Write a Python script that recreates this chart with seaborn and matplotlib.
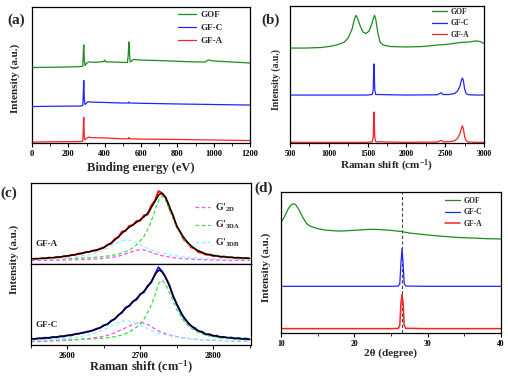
import numpy as np
import pandas as pd
import matplotlib
matplotlib.use("Agg")
import matplotlib.pyplot as plt
import seaborn as sns
from matplotlib.ticker import MultipleLocator

# ---------------- data ----------------
# (a) XPS survey, stacked intensities (a.u.)
xps_x_gof = [0, 100, 200, 270, 280, 283, 285, 288, 292, 300, 310, 350, 395, 400, 405, 500, 525,
             530, 533, 536, 540, 548, 560, 600, 700, 800, 900, 955, 965, 975, 985, 1000, 1100, 1200]
xps_y_gof = [555, 557, 559, 562, 566, 684, 721, 610, 570, 585, 596, 593, 599, 610, 597, 593, 592,
             647, 743, 684, 596, 603, 614, 610, 606, 601, 596, 596, 607, 610, 607, 603, 596, 588]
xps_x_gfc = [0, 100, 200, 270, 280, 283, 285, 288, 292, 300, 310, 320, 400, 500, 530, 533, 536,
             600, 800, 1000, 1200]
xps_y_gfc = [268, 270, 271, 272, 276, 390, 460, 316, 283, 294, 305, 301, 298, 294, 294, 301, 294,
             292, 287, 283, 279]
xps_x_gfa = xps_x_gfc
xps_y_gfa = [7, 9, 10, 11, 15, 132, 188, 44, 22, 33, 44, 40, 37, 31, 31, 40, 31, 29, 26, 22, 18]

# (b) Raman spectra
ram_x_gof = [500, 700, 900, 1000, 1100, 1200, 1250, 1300, 1330, 1350, 1370, 1400, 1440, 1480, 1520,
             1550, 1575, 1590, 1605, 1630, 1660, 1700, 1800, 2000, 2200, 2400, 2500, 2600, 2700,
             2800, 2900, 2950, 3000]
ram_y_gof = [693, 693, 697, 704, 715, 737, 766, 832, 905, 931, 912, 861, 810, 799, 818,
             861, 912, 931, 905, 810, 737, 715, 704, 701, 704, 715, 719, 726, 734,
             737, 745, 741, 726]
ram_x_gf = [500, 1000, 1500, 1560, 1572, 1578, 1582, 1586, 1592, 1605, 2000, 2400, 2440, 2455,
            2470, 2550, 2620, 2660, 2690, 2710, 2722, 2735, 2750, 2770, 2800, 2900, 3000]
ram_y_gfc = [350, 350, 350, 354, 387, 518, 577, 518, 387, 354, 350, 352, 365, 365,
             354, 354, 361, 380, 416, 460, 474, 453, 394, 361, 352, 350, 350]
ram_y_gfa = [5, 5, 5, 9, 40, 168, 226, 168, 40, 9, 5, 7, 18, 18,
             9, 9, 16, 34, 69, 109, 126, 102, 47, 16, 7, 5, 5]

# (c) G' band fitting (normalised to each sub-panel)
fit_x = [2550, 2570, 2590, 2610, 2630, 2645, 2655, 2665, 2675, 2685, 2695, 2705, 2712, 2718,
         2722, 2726, 2730, 2734, 2738, 2744, 2750, 2758, 2766, 2776, 2790, 2810, 2830, 2850]
gfa_fit = [.062, .071, .087, .114, .152, .185, .23, .295, .38, .455, .515, .58, .645, .74,
           .80, .86, .87, .83, .76, .62, .475, .35, .255, .18, .122, .092, .078, .07]
gfa_3da = [.06, .062, .065, .07, .078, .088, .098, .112, .135, .17, .235, .34, .46, .60,
           .71, .80, .84, .80, .72, .58, .45, .33, .245, .18, .13, .095, .08, .07]
gfa_3db = [.055, .06, .07, .085, .115, .155, .195, .245, .29, .295, .26, .215, .185, .165,
           .152, .142, .133, .125, .118, .108, .10, .09, .083, .076, .069, .063, .058, .055]
gfa_2d = [.042, .045, .048, .052, .058, .066, .075, .088, .108, .14, .172, .175, .155, .135,
          .122, .112, .103, .095, .089, .08, .074, .067, .062, .057, .052, .048, .045, .043]
gfc_fit = [.074, .088, .105, .13, .165, .215, .26, .325, .41, .49, .575, .665, .74, .83,
           .89, .925, .90, .85, .77, .64, .50, .37, .27, .19, .135, .1, .082, .07]
gfc_3da = [.055, .058, .062, .066, .073, .082, .09, .103, .125, .16, .22, .32, .43, .56,
           .67, .77, .80, .76, .69, .56, .44, .32, .235, .17, .12, .088, .073, .065]
gfc_3db = [.055, .062, .072, .09, .125, .17, .21, .255, .295, .295, .265, .225, .195, .17,
           .155, .144, .135, .126, .118, .108, .098, .088, .08, .072, .064, .057, .052, .048]
gfc_2d = [.042, .047, .054, .064, .08, .1, .12, .15, .19, .235, .27, .272, .245, .21,
          .19, .172, .155, .142, .13, .115, .103, .09, .08, .07, .062, .055, .048, .044]

raw_x = list(range(2550, 2851, 5))
gfa_raw = [.058, .066, .062, .072, .068, .079, .074, .085, .083, .097, .095, .11, .112, .128, .13,
           .148, .15, .165, .168, .19, .2, .24, .25, .31, .33, .4, .41, .47, .48, .53, .535,
           .6, .61, .72, .78, .9, .875, .82, .69, .6, .46, .39, .3, .265, .205, .19, .145,
           .14, .115, .117, .098, .102, .088, .093, .08, .085, .074, .079, .07, .076, .068]
gfc_raw = [.078, .072, .082, .079, .09, .085, .098, .093, .108, .105, .12, .118, .135, .14, .15,
           .16, .17, .18, .2, .212, .245, .255, .3, .32, .37, .4, .465, .48, .54, .56, .63,
           .65, .73, .77, .87, .96, .91, .83, .74, .6, .51, .41, .33, .28, .23, .21, .17,
           .165, .13, .135, .11, .115, .095, .1, .088, .092, .08, .086, .074, .08, .07]

# (d) XRD patterns
xrd_x_gof = [10, 10.5, 11, 11.4, 11.7, 12.0, 12.5, 13, 13.5, 14, 15, 16, 17, 18, 20, 22, 23, 25,
             26.5, 27.5, 30, 32, 34, 36, 38, 40]
xrd_y_gof = [782, 827, 882, 910, 917, 910, 870, 818, 775, 757, 740, 730, 726, 723, 728, 735, 735,
             728, 719, 709, 695, 686, 678, 674, 669, 667]
xrd_x_gf = [10, 20, 25, 26.0, 26.2, 26.35, 26.5, 26.65, 26.8, 27, 30, 40]
xrd_y_gfc = [331, 331, 331, 333, 350, 492, 598, 492, 350, 333, 331, 331]
xrd_y_gfa = [31, 31, 31, 33, 54, 208, 274, 208, 54, 33, 31, 31]
graphite_002 = 26.5

# ---------------- style ----------------
sns.set_theme(style="ticks")
plt.rcParams['font.family'] = ['Liberation Serif', 'DejaVu Serif']
plt.rcParams['font.weight'] = 'bold'
plt.rcParams['axes.labelweight'] = 'bold'
plt.rcParams['mathtext.fontset'] = 'custom'
plt.rcParams['mathtext.rm'] = 'Liberation Serif:bold'
plt.rcParams['mathtext.it'] = 'Liberation Serif:bold'
plt.rcParams['mathtext.bf'] = 'Liberation Serif:bold'
plt.rcParams['mathtext.default'] = 'rm'

GREEN, BLUE, RED = '#1b8c1b', '#2323ff', '#ff2020'
W, H = 508, 381
fig = plt.figure(figsize=(W / 100, H / 100), dpi=100)


def px_axes(l, t, r, b):
    return fig.add_axes([l / W, 1 - b / H, (r - l) / W, (b - t) / H])


def style_axes(ax, major, minor, tick_fs=6):
    for s in ax.spines.values():
        s.set_linewidth(0.9)
        s.set_color('black')
    ax.xaxis.set_major_locator(MultipleLocator(major))
    ax.xaxis.set_minor_locator(MultipleLocator(minor))
    ax.tick_params(axis='x', which='major', direction='out', length=3, width=0.8,
                   labelsize=tick_fs, pad=2, colors='black')
    ax.tick_params(axis='x', which='minor', direction='out', length=1.8, width=0.7)
    ax.tick_params(axis='y', left=False, labelleft=False)
    ax.set_xlabel('')
    ax.set_ylabel('')


def draw(ax, x, y, color, label=None, lw=1.0, **kw):
    sns.lineplot(x=x, y=y, ax=ax, color=color, lw=lw, label=label, estimator=None,
                 sort=False, **kw)


def legend(ax, x, y, fs, spacing, hl=2.0):
    leg = ax.legend(loc='upper left', bbox_to_anchor=(x, y), frameon=False, fontsize=fs,
                    borderpad=0, borderaxespad=0, handlelength=hl, handletextpad=0.5,
                    labelspacing=spacing)
    return leg


# (a)
axa = px_axes(32, 7, 250, 143)
draw(axa, xps_x_gof, xps_y_gof, GREEN, 'GOF', lw=0.9)
draw(axa, xps_x_gfc, xps_y_gfc, BLUE, 'GF-C', lw=0.9)
draw(axa, xps_x_gfa, xps_y_gfa, RED, 'GF-A', lw=0.9)
axa.set_xlim(0, 1200)
axa.set_ylim(0, 1000)
style_axes(axa, 200, 100)
legend(axa, 0.67, 0.975, 6.5, 0.55)

# (b)
axb = px_axes(290, 6, 484, 143)
draw(axb, ram_x_gof, ram_y_gof, GREEN, 'GOF', lw=0.9)
draw(axb, ram_x_gf, ram_y_gfc, BLUE, 'GF-C', lw=0.9)
draw(axb, ram_x_gf, ram_y_gfa, RED, 'GF-A', lw=0.9)
axb.set_xlim(500, 3000)
axb.set_ylim(0, 1000)
style_axes(axb, 500, 250, tick_fs=5.5)
legend(axb, 0.73, 0.985, 5.5, 0.45)

# (c)
axc1 = px_axes(31, 183, 251, 264)
axc2 = px_axes(31, 264, 251, 345)
for ax, raw, rc, fit, c2d, c3a, c3b, name in [
        (axc1, gfa_raw, '#ff0000', gfa_fit, gfa_2d, gfa_3da, gfa_3db, 'GF-A'),
        (axc2, gfc_raw, '#1a1aee', gfc_fit, gfc_2d, gfc_3da, gfc_3db, 'GF-C')]:
    lab = ax is axc1
    draw(ax, raw_x, raw, rc, lw=1.4)
    draw(ax, fit_x, c2d, '#ff4dff', "G'$_{2D}$" if lab else None, lw=0.9, linestyle=(0, (3, 2)))
    draw(ax, fit_x, c3a, '#3fdc3f', "G'$_{3DA}$" if lab else None, lw=0.9, linestyle=(0, (3, 2)))
    draw(ax, fit_x, c3b, '#8ff5f5', "G'$_{3DB}$" if lab else None, lw=0.9, linestyle=(0, (3, 2)))
    draw(ax, fit_x, fit, 'black', lw=1.0)
    ax.set_xlim(2550, 2852)
    ax.set_ylim(0, 1)
    style_axes(ax, 100, 50, tick_fs=6)
    ax.text(0.02, 0.25, name, transform=ax.transAxes, fontsize=6.5,
            fontweight='bold', ha='left', va='center')
axc1.tick_params(axis='x', which='both', bottom=False, labelbottom=False)
legend(axc1, 0.745, 0.77, 7, 0.5, hl=1.6)
if axc2.get_legend():
    axc2.get_legend().remove()

# (d)
axd = px_axes(281, 192, 501, 333)
axd.axvline(graphite_002, color='#444444', lw=0.8, linestyle=(0, (3, 2)))
draw(axd, xrd_x_gof, xrd_y_gof, GREEN, 'GOF', lw=0.9)
draw(axd, xrd_x_gf, xrd_y_gfc, BLUE, 'GF-C', lw=0.9)
draw(axd, xrd_x_gf, xrd_y_gfa, RED, 'GF-A', lw=1.1)
axd.set_xlim(10, 40)
axd.set_ylim(0, 1000)
style_axes(axd, 10, 5, tick_fs=5.5)
legend(axd, 0.745, 0.965, 5.5, 0.45)

# axis titles and panel letters
lab_fs = 9
fig.text(141 / W, 1 - 168 / H, 'Binding energy (eV)', ha='center', va='center', fontsize=lab_fs, fontweight='bold')
fig.text(387 / W, 1 - 166 / H, 'Raman shift (cm$^{-1}$)', ha='center', va='center', fontsize=8, fontweight='bold')
fig.text(141 / W, 1 - 367 / H, 'Raman shift (cm$^{-1}$)', ha='center', va='center', fontsize=lab_fs, fontweight='bold')
fig.text(391 / W, 1 - 353 / H, '2θ (degree)', ha='center', va='center', fontsize=8, fontweight='bold')
fig.text(15.5 / W, 1 - 78 / H, 'Intensity (a.u.)', rotation=90, ha='center', va='center', fontsize=8, fontweight='bold')
fig.text(276 / W, 1 - 80 / H, 'Intensity (a.u.)', rotation=90, ha='center', va='center', fontsize=7, fontweight='bold')
fig.text(14 / W, 1 - 259 / H, 'Intensity (a.u.)', rotation=90, ha='center', va='center', fontsize=8, fontweight='bold')
fig.text(266 / W, 1 - 267 / H, 'Intensity (a.u.)', rotation=90, ha='center', va='center', fontsize=8, fontweight='bold')

for t, x, y in [('(a)', 16, 20), ('(b)', 271, 20), ('(c)', 9, 193), ('(d)', 264, 188)]:
    fig.text(x / W, 1 - y / H, t, ha='center', va='center', fontsize=11, fontweight='bold')

fig.savefig('out.png', dpi=100)
